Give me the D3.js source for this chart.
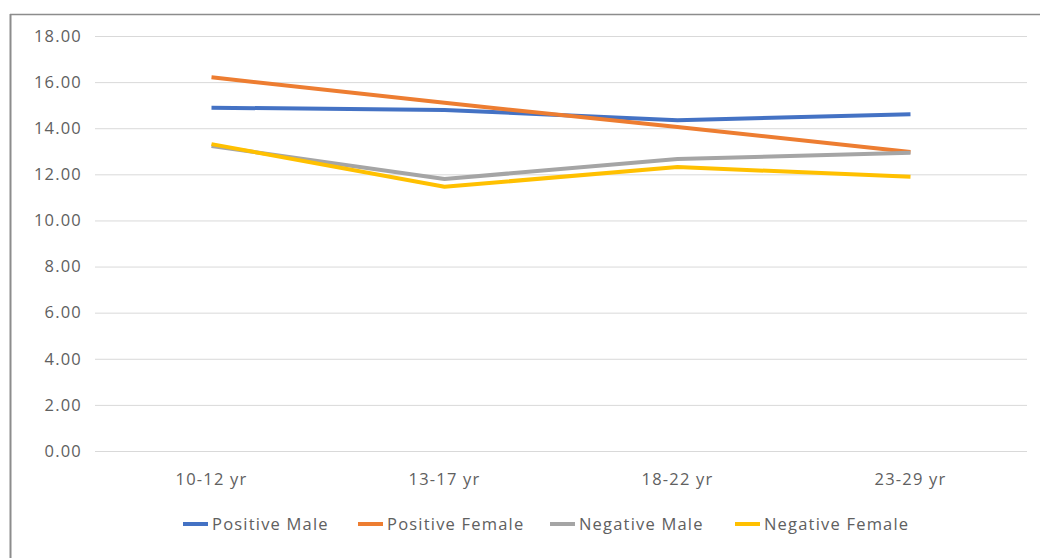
<!DOCTYPE html>
<html>
<head>
<meta charset="utf-8">
<script src="https://cdn.jsdelivr.net/npm/d3@7"></script>
<style>
  html, body { margin: 0; padding: 0; background: #fff; }
  svg { display: block; }
  text { font-family: "Open Sans", sans-serif; fill: #606060; letter-spacing: 1.2px; }
</style>
</head>
<body>
<svg id="chart" width="1040" height="558"></svg>
<script>
// Age groups along the x axis
const categories = ["10-12 yr", "13-17 yr", "18-22 yr", "23-29 yr"];

// Mean scores per age group
const positiveMale   = [14.89, 14.79, 14.35, 14.61];
const positiveFemale = [16.21, 15.10, 14.05, 12.97];
const negativeMale   = [13.23, 11.80, 12.66, 12.94];
const negativeFemale = [13.31, 11.46, 12.32, 11.89];

const seriesNames = ["Positive Male", "Positive Female", "Negative Male", "Negative Female"];
const yTicks = [0, 2, 4, 6, 8, 10, 12, 14, 16, 18];

const seriesColors = ["#4472C4", "#ED7D31", "#A5A5A5", "#FFC000"];
const seriesValues = [positiveMale, positiveFemale, negativeMale, negativeFemale];

const W = 1040, H = 558;
const plot = { left: 95, right: 1027, top: 36, bottom: 451 };
const fontSize = 16.5;

const svg = d3.select("#chart");

// Chart frame (top and left edges)
svg.append("line").attr("x1", 10).attr("x2", W).attr("y1", 14.5).attr("y2", 14.5)
  .attr("stroke", "#8c8c8c").attr("stroke-width", 1.5);
svg.append("line").attr("x1", 10.5).attr("x2", 10.5).attr("y1", 14).attr("y2", H)
  .attr("stroke", "#8c8c8c").attr("stroke-width", 2);

const x = d3.scaleBand().domain(categories).range([plot.left, plot.right]).padding(0);
const y = d3.scaleLinear().domain([0, 18]).range([plot.bottom, plot.top]);

// Horizontal gridlines with value labels
const yAxis = d3.axisLeft(y).tickValues(yTicks).tickFormat(d3.format(".2f"))
  .tickSize(-(plot.right - plot.left)).tickPadding(13);
const gy = svg.append("g").attr("transform", `translate(${plot.left},0)`).call(yAxis);
gy.select(".domain").remove();
gy.selectAll(".tick line").attr("stroke", "#d9d9d9").attr("stroke-width", 1);
gy.selectAll(".tick text").attr("font-size", fontSize).style("fill", "#606060")
  .attr("font-family", "Open Sans, sans-serif");

// Category labels
const xAxis = d3.axisBottom(x).tickSize(0).tickPadding(22);
const gx = svg.append("g").attr("transform", `translate(0,${plot.bottom})`).call(xAxis);
gx.select(".domain").remove();
gx.selectAll(".tick text").attr("font-size", fontSize).style("fill", "#606060")
  .attr("font-family", "Open Sans, sans-serif");

// Series lines
const line = d3.line()
  .x((d, i) => x(categories[i]) + x.bandwidth() / 2)
  .y(d => y(d));

seriesValues.forEach((vals, k) => {
  svg.append("path")
    .datum(vals)
    .attr("fill", "none")
    .attr("stroke", seriesColors[k])
    .attr("stroke-width", 4)
    .attr("stroke-linejoin", "round")
    .attr("d", line);
});

// Legend
const legendX = [183, 358, 550, 735];
const legendY = 524;
const lg = svg.append("g");
seriesNames.forEach((name, k) => {
  lg.append("line")
    .attr("x1", legendX[k]).attr("x2", legendX[k] + 25)
    .attr("y1", legendY).attr("y2", legendY)
    .attr("stroke", seriesColors[k]).attr("stroke-width", 4);
  lg.append("text")
    .attr("x", legendX[k] + 29).attr("y", legendY)
    .attr("dy", "0.35em")
    .attr("font-size", fontSize)
    .text(name);
});
</script>
</body>
</html>
